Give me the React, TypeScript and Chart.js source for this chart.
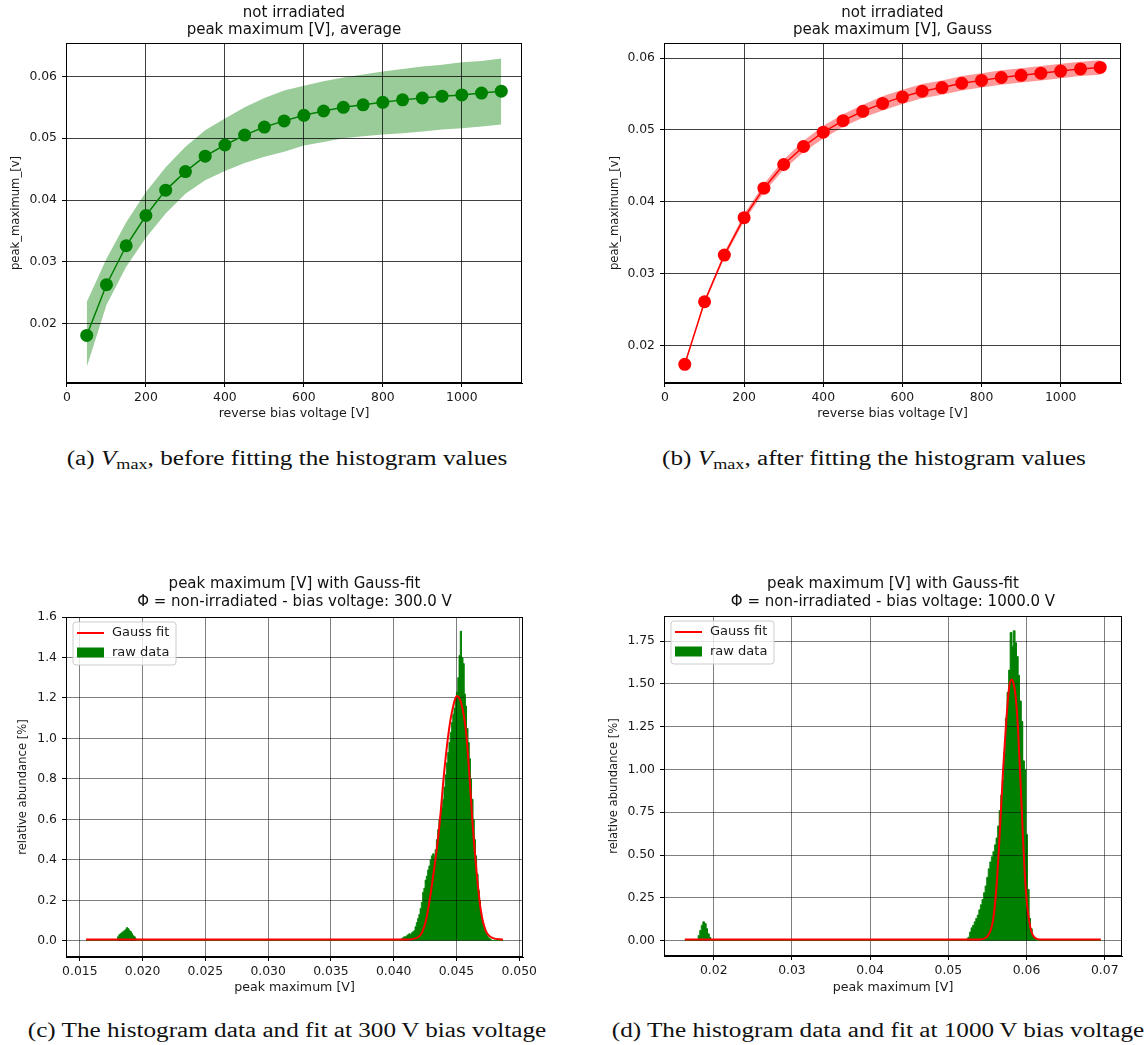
import React, { useEffect, useRef } from "react";
import { Chart, registerables } from "chart.js";

Chart.register(...registerables);

const FONT = "DejaVu Sans";

// ---------- panels (a) and (b) ----------
const voltages = [50, 100, 150, 200, 250, 300, 350, 400, 450, 500, 550, 600, 650, 700, 750, 800, 850, 900, 950, 1000, 1050, 1100];
const avgPeak = [0.0181, 0.0263, 0.0326, 0.0375, 0.0416, 0.0446, 0.0471, 0.0489, 0.0505, 0.0518, 0.0528, 0.0537, 0.0544, 0.055, 0.0554, 0.0558, 0.0562, 0.0565, 0.0568, 0.057, 0.0573, 0.0576];
const avgUpper = [0.0235, 0.0305, 0.0364, 0.0413, 0.0453, 0.0486, 0.0513, 0.0532, 0.055, 0.0565, 0.0577, 0.0585, 0.0592, 0.0598, 0.0603, 0.0608, 0.0612, 0.0616, 0.0619, 0.0623, 0.0625, 0.0629];
const avgLower = [0.013, 0.023, 0.0292, 0.0339, 0.0378, 0.041, 0.0432, 0.0447, 0.046, 0.047, 0.0478, 0.0488, 0.0494, 0.05, 0.0503, 0.0506, 0.0508, 0.0511, 0.0514, 0.0516, 0.0519, 0.0522];
const gaussPeak = [0.0174, 0.0261, 0.0326, 0.0378, 0.0419, 0.0452, 0.0477, 0.0497, 0.0513, 0.0526, 0.0537, 0.0546, 0.0554, 0.0559, 0.0565, 0.0569, 0.0573, 0.0576, 0.0579, 0.0582, 0.0585, 0.0587];
const gaussErr = [0.0002, 0.0003, 0.0004, 0.0005, 0.0006, 0.0007, 0.0008, 0.0009, 0.0009, 0.0009, 0.001, 0.001, 0.001, 0.001, 0.001, 0.001, 0.001, 0.001, 0.001, 0.001, 0.001, 0.001];

// ---------- panel (c): 300 V histogram ----------
const histCRange = [0.0155, 0.0487];
const histCBase = 0.002;
const histCBumpStart = 0.018;
const histCBumpWidth = 0.0001;
const histCBump = [0.02, 0.03, 0.035, 0.04, 0.045, 0.05, 0.055, 0.065, 0.06, 0.05, 0.045, 0.035, 0.025, 0.02, 0.01];
const histCPeakStart = 0.0405;
const histCPeakWidth = 0.0001;
const histCPeak = [
  0.005, 0.01, 0.015, 0.02, 0.02, 0.025, 0.03, 0.035, 0.03, 0.04,
  0.045, 0.05, 0.07, 0.09, 0.11, 0.13, 0.16, 0.19, 0.24, 0.26,
  0.3, 0.32, 0.35, 0.37, 0.4, 0.42, 0.43, 0.41, 0.45, 0.5,
  0.55, 0.6, 0.62, 0.66, 0.7, 0.76, 0.82, 0.88, 0.93, 0.98,
  1.03, 1.08, 1.12, 1.15, 1.2, 1.23, 1.3, 1.41, 1.53, 1.4,
  1.37, 1.22, 1.16, 1.05, 0.98, 0.9, 0.8, 0.7, 0.6, 0.5,
  0.42, 0.33, 0.25, 0.2, 0.14, 0.1, 0.07, 0.05, 0.035, 0.025,
  0.015, 0.01, 0.005,
];
const gaussCX = [0.0155, 0.041, 0.042, 0.04257, 0.0431, 0.04363, 0.04403, 0.04442, 0.04482, 0.04503, 0.04535, 0.04575, 0.04601, 0.04627, 0.04659, 0.04694, 0.04733, 0.04786, 0.0487];
const gaussCY = [0.006, 0.006, 0.02, 0.1, 0.3, 0.56, 0.84, 1.05, 1.18, 1.21, 1.18, 1.04, 0.84, 0.59, 0.35, 0.15, 0.05, 0.015, 0.006];

// ---------- panel (d): 1000 V histogram ----------
const histDRange = [0.0163, 0.0695];
const histDBase = 0.002;
const histDBumpStart = 0.018;
const histDBumpWidth = 0.0002;
const histDBump = [0.03, 0.06, 0.09, 0.11, 0.1, 0.07, 0.04, 0.02];
const histDPeakStart = 0.0523;
const histDPeakWidth = 0.0002;
const histDPeak = [
  0.01, 0.02, 0.05, 0.075, 0.09, 0.11, 0.13, 0.15, 0.18, 0.21,
  0.24, 0.28, 0.32, 0.37, 0.42, 0.46, 0.49, 0.52, 0.56, 0.6,
  0.67, 0.76, 0.85, 0.94, 1.1, 1.3, 1.45, 1.58, 1.8, 1.72,
  1.81, 1.74, 1.66, 1.55, 1.4, 1.28, 1.05, 1.0, 0.62, 0.3,
  0.13, 0.07, 0.03, 0.015, 0.005,
];
const gaussDX = [0.0163, 0.054, 0.05508, 0.05572, 0.05615, 0.05657, 0.057, 0.05742, 0.05775, 0.05807, 0.05835, 0.05862, 0.05892, 0.05926, 0.05955, 0.05989, 0.06032, 0.06083, 0.0617, 0.0695];
const gaussDY = [0.007, 0.007, 0.03, 0.12, 0.31, 0.62, 0.995, 1.29, 1.47, 1.525, 1.5, 1.42, 1.23, 0.9, 0.6, 0.31, 0.12, 0.03, 0.007, 0.007];

const GREEN = "#008000";
const RED = "#ff0000";

// Outline of the histogram: each bin becomes its left and right top corners.
function histPoints(range: number[], base: number, segs: { start: number; width: number; values: number[] }[]) {
  const pts: { x: number; y: number }[] = [{ x: range[0], y: 0 }, { x: range[0], y: base }];
  for (const s of segs) {
    pts.push({ x: s.start, y: base });
    s.values.forEach((v, i) => {
      pts.push({ x: s.start + i * s.width, y: v });
      pts.push({ x: s.start + (i + 1) * s.width, y: v });
    });
    pts.push({ x: s.start + s.values.length * s.width, y: base });
  }
  pts.push({ x: range[1], y: base });
  pts.push({ x: range[1], y: 0 });
  return pts;
}

const zip = (xs: number[], ys: number[]) => xs.map((x, i) => ({ x, y: ys[i] }));

const framePlugin = {
  id: "frame",
  afterDatasetsDraw(chart: any) {
    const { ctx, chartArea } = chart;
    const l = Math.round(chartArea.left) + 0.5;
    const t = Math.round(chartArea.top) + 0.5;
    const r = Math.round(chartArea.right) - 0.5;
    const b = Math.round(chartArea.bottom) - 0.5;
    ctx.save();
    ctx.strokeStyle = "#000";
    ctx.lineWidth = 1;
    ctx.strokeRect(l, t, r - l, b - t);
    ctx.restore();
  },
};

const boxLegendPlugin = {
  id: "boxLegend",
  afterDraw(chart: any, _args: any, opts: any) {
    if (!opts || !opts.display) return;
    const { ctx, chartArea } = chart;
    const x0 = chartArea.left + opts.dx;
    const y0 = chartArea.top + opts.dy;
    const w = opts.w;
    const h = opts.h;
    ctx.save();
    ctx.beginPath();
    const rr = 3;
    ctx.moveTo(x0 + rr, y0);
    ctx.arcTo(x0 + w, y0, x0 + w, y0 + h, rr);
    ctx.arcTo(x0 + w, y0 + h, x0, y0 + h, rr);
    ctx.arcTo(x0, y0 + h, x0, y0, rr);
    ctx.arcTo(x0, y0, x0 + w, y0, rr);
    ctx.closePath();
    ctx.fillStyle = "rgba(255,255,255,0.8)";
    ctx.fill();
    ctx.strokeStyle = "#cccccc";
    ctx.lineWidth = 1;
    ctx.stroke();
    ctx.font = `${opts.fontSize}px "${FONT}"`;
    ctx.textBaseline = "middle";
    ctx.textAlign = "left";
    opts.items.forEach((it: any, i: number) => {
      const ds = chart.data.datasets[it.datasetIndex];
      const cy = y0 + opts.firstY + i * opts.rowH;
      if (it.kind === "line") {
        ctx.strokeStyle = ds.borderColor;
        ctx.lineWidth = 2;
        ctx.beginPath();
        ctx.moveTo(x0 + 4, cy);
        ctx.lineTo(x0 + 31, cy);
        ctx.stroke();
      } else {
        ctx.fillStyle = ds.backgroundColor;
        ctx.fillRect(x0 + 4, cy - 5, 27, 10);
      }
      ctx.fillStyle = "#1a1a1a";
      ctx.fillText(ds.label, x0 + 39, cy);
    });
    ctx.restore();
  },
};

function makeOptions(p: any) {
  const tickFont = { family: FONT, size: p.tickSize, weight: "normal" as const };
  return {
    responsive: false,
    animation: false as const,
    events: [] as any[],
    layout: { padding: { left: 0, top: 0, right: p.padRight, bottom: 0 } },
    plugins: {
      legend: { display: false },
      tooltip: { enabled: false },
      filler: { drawTime: "beforeDraw", propagate: false },
      title: {
        display: true,
        fullSize: false,
        text: p.title,
        color: "#111",
        font: { family: FONT, size: p.titleSize, weight: "normal", lineHeight: p.titleLH },
        padding: { top: p.titlePadTop, bottom: p.titlePadBottom },
      },
      boxLegend: p.legend || { display: false },
    },
    scales: {
      x: {
        type: "linear",
        min: p.xMin,
        max: p.xMax,
        offset: false,
        afterFit: (s: any) => {
          s.height = p.xH;
        },
        grid: { color: p.gridColor, lineWidth: 1, tickColor: "#000", tickLength: 4, drawTicks: true },
        border: { display: true, color: "#000", width: 1 },
        ticks: {
          stepSize: p.xStep,
          includeBounds: false,
          autoSkip: false,
          maxRotation: 0,
          padding: p.xTickPad,
          color: "#1a1a1a",
          font: tickFont,
          callback: (v: any) => Number(v).toFixed(p.xDec),
        },
        title: {
          display: true,
          text: p.xTitle,
          color: "#1a1a1a",
          font: { family: FONT, size: p.xLabelSize, weight: "normal", lineHeight: 1.2 },
          padding: { top: 0, bottom: p.xTitlePad },
        },
      },
      y: {
        type: "linear",
        min: p.yMin,
        max: p.yMax,
        afterFit: (s: any) => {
          s.width = p.yW;
        },
        grid: { color: p.gridColor, lineWidth: 1, tickColor: "#000", tickLength: 4, drawTicks: true },
        border: { display: true, color: "#000", width: 1 },
        ticks: {
          stepSize: p.yStep,
          includeBounds: false,
          autoSkip: false,
          padding: p.yTickPad,
          color: "#1a1a1a",
          font: tickFont,
          callback: (v: any) => Number(v).toFixed(p.yDec),
        },
        title: {
          display: true,
          text: p.yTitle,
          color: "#1a1a1a",
          font: { family: FONT, size: p.yLabelSize, weight: "normal", lineHeight: 1.2 },
          padding: { top: p.yTitlePad, bottom: 0 },
        },
      },
    },
  };
}

const commonTop = {
  titleSize: 15,
  titleLH: 1.1667,
  titlePadTop: 4,
  titlePadBottom: 4,
  tickSize: 12.4,
  xLabelSize: 12.6,
  yLabelSize: 11.6,
  xMin: -2.5,
  xMax: 1152.5,
  xStep: 200,
  xDec: 0,
  xH: 47,
  xTickPad: 3,
  xTitle: "reverse bias voltage [V]",
  xTitlePad: 9,
  yStep: 0.01,
  yDec: 2,
  yTickPad: 5,
  yTitle: "peak_maximum_[v]",
  gridColor: "rgba(0,0,0,0.75)",
};

function configA(): any {
  return {
    type: "line",
    data: {
      datasets: [
        {
          label: "average",
          data: zip(voltages, avgPeak),
          borderColor: GREEN,
          backgroundColor: GREEN,
          borderWidth: 1.5,
          pointRadius: 6.5,
          pointBorderWidth: 0,
          pointBackgroundColor: GREEN,
          fill: false,
          tension: 0,
        },
        {
          label: "upper",
          data: zip(voltages, avgUpper),
          borderWidth: 1,
          borderColor: "transparent",
          pointRadius: 0,
          backgroundColor: "rgba(0,128,0,0.4)",
          fill: "+1",
        },
        {
          label: "lower",
          data: zip(voltages, avgLower),
          borderWidth: 1,
          borderColor: "transparent",
          pointRadius: 0,
          fill: false,
        },
      ],
    },
    options: makeOptions({
      ...commonTop,
      padRight: 48,
      title: ["not irradiated", "peak maximum [V], average"],
      yMin: 0.0104,
      yMax: 0.0654,
      yW: 66,
      yTitlePad: 9,
    }),
    plugins: [framePlugin],
  };
}

function configB(): any {
  return {
    type: "line",
    data: {
      datasets: [
        {
          label: "Gauss",
          data: zip(voltages, gaussPeak),
          borderColor: RED,
          backgroundColor: RED,
          borderWidth: 1.5,
          pointRadius: 6.5,
          pointBorderWidth: 0,
          pointBackgroundColor: RED,
          fill: false,
          tension: 0,
        },
        {
          label: "upper",
          data: voltages.map((v, i) => ({ x: v, y: gaussPeak[i] + gaussErr[i] })),
          borderWidth: 1,
          borderColor: "transparent",
          pointRadius: 0,
          backgroundColor: "rgba(255,0,0,0.4)",
          fill: "+1",
        },
        {
          label: "lower",
          data: voltages.map((v, i) => ({ x: v, y: gaussPeak[i] - gaussErr[i] })),
          borderWidth: 1,
          borderColor: "transparent",
          pointRadius: 0,
          fill: false,
        },
      ],
    },
    options: makeOptions({
      ...commonTop,
      padRight: 26,
      title: ["not irradiated", "peak maximum [V], Gauss"],
      yMin: 0.0148,
      yMax: 0.0621,
      yW: 84,
      yTitlePad: 28,
    }),
    plugins: [framePlugin],
  };
}

function configHist(which: "c" | "d"): any {
  const c = which === "c";
  const hist = c
    ? histPoints(histCRange, histCBase, [
        { start: histCBumpStart, width: histCBumpWidth, values: histCBump },
        { start: histCPeakStart, width: histCPeakWidth, values: histCPeak },
      ])
    : histPoints(histDRange, histDBase, [
        { start: histDBumpStart, width: histDBumpWidth, values: histDBump },
        { start: histDPeakStart, width: histDPeakWidth, values: histDPeak },
      ]);
  const fit = c ? zip(gaussCX, gaussCY) : zip(gaussDX, gaussDY);
  return {
    type: "line",
    data: {
      datasets: [
        {
          label: "Gauss fit",
          data: fit,
          borderColor: RED,
          borderWidth: 2,
          pointRadius: 0,
          cubicInterpolationMode: "monotone",
          fill: false,
          order: 0,
        },
        {
          label: "raw data",
          data: hist,
          tension: 0,
          borderWidth: 0.8,
          borderColor: GREEN,
          backgroundColor: GREEN,
          pointRadius: 0,
          fill: "origin",
          order: 1,
        },
      ],
    },
    options: makeOptions({
      padRight: c ? 47 : 25,
      title: [
        "peak maximum [V] with Gauss-fit",
        c ? "Φ = non-irradiated - bias voltage: 300.0 V" : "Φ = non-irradiated - bias voltage: 1000.0 V",
      ],
      titleSize: 15,
      titleLH: 1.2,
      titlePadTop: 5,
      titlePadBottom: c ? 6 : 5,
      tickSize: 12.4,
      xLabelSize: 12.6,
      yLabelSize: 11.6,
      xMin: c ? 0.0139 : 0.01364,
      xMax: c ? 0.0503 : 0.07221,
      xStep: c ? 0.005 : 0.01,
      xDec: c ? 3 : 2,
      xH: c ? 43 : 44,
      xTickPad: 3,
      xTitle: "peak maximum [V]",
      xTitlePad: 5,
      yMin: c ? -0.08 : -0.0895,
      yMax: c ? 1.6 : 1.896,
      yStep: c ? 0.2 : 0.25,
      yDec: c ? 1 : 2,
      yW: c ? 66 : 84,
      yTickPad: 5,
      yTitle: "relative abundance [%]",
      yTitlePad: c ? 16 : 27,
      gridColor: "rgba(0,0,0,0.5)",
      legend: {
        display: true,
        dx: 7,
        dy: 5,
        w: 103,
        h: 43,
        firstY: 11,
        rowH: 19.5,
        fontSize: 13,
        items: [
          { datasetIndex: 0, kind: "line" },
          { datasetIndex: 1, kind: "rect" },
        ],
      },
    }),
    plugins: [framePlugin, boxLegendPlugin],
  };
}

const captionStyle: React.CSSProperties = {
  position: "absolute",
  width: 700,
  textAlign: "center",
  fontFamily: '"Liberation Serif", serif',
  fontSize: 20,
  lineHeight: "24px",
  whiteSpace: "nowrap",
  color: "#111",
  transform: "scaleX(1.26)",
  transformOrigin: "50% 50%",
};
const subStyle: React.CSSProperties = { fontSize: "0.72em", verticalAlign: "-0.25em", lineHeight: 0 };

export default function App() {
  const ra = useRef<HTMLCanvasElement>(null);
  const rb = useRef<HTMLCanvasElement>(null);
  const rc = useRef<HTMLCanvasElement>(null);
  const rd = useRef<HTMLCanvasElement>(null);

  useEffect(() => {
    const charts = [
      new Chart(ra.current as HTMLCanvasElement, configA()),
      new Chart(rb.current as HTMLCanvasElement, configB()),
      new Chart(rc.current as HTMLCanvasElement, configHist("c")),
      new Chart(rd.current as HTMLCanvasElement, configHist("d")),
    ];
    return () => charts.forEach((ch) => ch.destroy());
  }, []);

  const cv = (left: number, top: number, w: number, h: number, ref: any) => (
    <canvas ref={ref} width={w} height={h} style={{ position: "absolute", left, top, width: w, height: h }} />
  );

  return (
    <div style={{ position: "absolute", left: 0, top: 0, width: 1147, height: 1045, overflow: "hidden", background: "#fff" }}>
      {cv(0, 0, 570, 430, ra)}
      {cv(580, 0, 567, 430, rb)}
      {cv(0, 570, 570, 430, rc)}
      {cv(580, 570, 567, 430, rd)}
      <div style={{ ...captionStyle, left: 287 - 350, top: 446 }}>
        (a) <i>V</i>
        <span style={subStyle}>max</span>, before fitting the histogram values
      </div>
      <div style={{ ...captionStyle, left: 874 - 350, top: 446 }}>
        (b) <i>V</i>
        <span style={subStyle}>max</span>, after fitting the histogram values
      </div>
      <div style={{ ...captionStyle, left: 287 - 350, top: 1018 }}>(c) The histogram data and fit at 300{"\u2009"}V bias voltage</div>
      <div style={{ ...captionStyle, left: 878 - 350, top: 1018 }}>(d) The histogram data and fit at 1000{"\u2009"}V bias voltage</div>
    </div>
  );
}
